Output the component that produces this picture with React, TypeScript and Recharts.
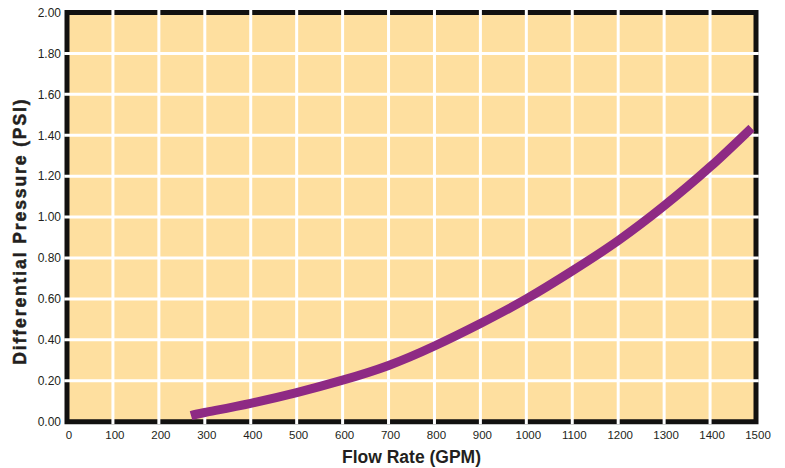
import React from 'react';
import {
  LineChart,
  Line,
  XAxis,
  YAxis,
  CartesianGrid,
  ReferenceArea,
  ReferenceLine,
  Label,
} from 'recharts';

// flow rate (GPM) vs differential pressure (PSI)
const flowRate = [270, 300, 400, 500, 600, 700, 800, 900, 1000, 1100, 1200, 1300, 1400, 1490];
const pressure = [0.03, 0.045, 0.09, 0.142, 0.203, 0.275, 0.37, 0.48, 0.6, 0.737, 0.885, 1.055, 1.245, 1.435];

const xTicks = [0, 100, 200, 300, 400, 500, 600, 700, 800, 900, 1000, 1100, 1200, 1300, 1400, 1500];
const yTicks = [0, 0.2, 0.4, 0.6, 0.8, 1.0, 1.2, 1.4, 1.6, 1.8, 2.0];

const data = flowRate.map((gpm, i) => ({ gpm, psi: pressure[i] }));

const FONT = '"Liberation Sans", Arial, Helvetica, sans-serif';
const TEXT = '#231f20';
const FILL = '#fedf9f';
const BORDER = '#121110';
const CURVE = '#8e2a84';

// gridlines run through the frame, so pad them a little past the domain
const PAD_X = 6;
const PAD_Y = 0.013;

const xInner = xTicks.slice(1, -1);
const yInner = yTicks.slice(1, -1);

const YTitle = (props: any) => {
  const { viewBox } = props;
  const cx = viewBox.x + 20;
  const cy = viewBox.y + viewBox.height / 2 + 14;
  return (
    <text
      x={cx}
      y={cy}
      transform={`rotate(-90 ${cx} ${cy})`}
      textAnchor="middle"
      dominantBaseline="central"
      fontFamily={FONT}
      fontWeight="bold"
      fontSize={17.5}
      letterSpacing={1.9}
      stroke={TEXT}
      strokeWidth={0.5}
      fill={TEXT}
    >
      Differential Pressure (PSI)
    </text>
  );
};

const XTitle = (props: any) => {
  const { viewBox } = props;
  return (
    <text
      x={viewBox.x + viewBox.width / 2}
      y={viewBox.y + 41}
      textAnchor="middle"
      fontFamily={FONT}
      fontWeight="bold"
      fontSize={17.5}
      fill={TEXT}
    >
      Flow Rate (GPM)
    </text>
  );
};

export default function App() {
  return (
    <div style={{ position: 'absolute', left: 0, top: 0, width: 785, height: 468, background: '#fff' }}>
      <LineChart
        width={785}
        height={468}
        data={data}
        margin={{ top: 12.5, right: 29, bottom: 0, left: 0 }}
      >
        <CartesianGrid horizontal={false} vertical={false} fill={FILL} />
        <XAxis
          dataKey="gpm"
          type="number"
          domain={[0, 1500]}
          ticks={xTicks}
          interval={0}
          height={46.3}
          axisLine={false}
          tickLine={false}
          tickSize={6}
          tickMargin={3}
          tick={{ fontFamily: FONT, fontSize: 11.5, fill: TEXT, dx: 2 }}
        >
          <Label content={XTitle} />
        </XAxis>
        <YAxis
          type="number"
          domain={[0, 2]}
          ticks={yTicks}
          interval={0}
          width={67}
          axisLine={false}
          tickLine={false}
          tickSize={6}
          tickMargin={0}
          tickFormatter={(v: number) => v.toFixed(2)}
          tick={{ fontFamily: FONT, fontSize: 12, fill: TEXT }}
        >
          <Label content={YTitle} />
        </YAxis>
        <ReferenceArea
          x1={0}
          x2={1500}
          y1={0}
          y2={2}
          fill="none"
          fillOpacity={0}
          stroke={BORDER}
          strokeWidth={5}
          ifOverflow="visible"
        />
        {xInner.map((x) => (
          <ReferenceLine
            key={`vx${x}`}
            segment={[{ x, y: -PAD_Y }, { x, y: 2 + PAD_Y }]}
            stroke="#fff"
            strokeWidth={3}
            ifOverflow="visible"
          />
        ))}
        {yInner.map((y) => (
          <ReferenceLine
            key={`hy${y}`}
            segment={[{ x: -PAD_X, y }, { x: 1500 + PAD_X, y }]}
            stroke="#fff"
            strokeWidth={3}
            ifOverflow="visible"
          />
        ))}
        <Line
          type="natural"
          dataKey="psi"
          stroke={CURVE}
          strokeWidth={9}
          dot={false}
          activeDot={false}
          isAnimationActive={false}
        />
      </LineChart>
    </div>
  );
}
